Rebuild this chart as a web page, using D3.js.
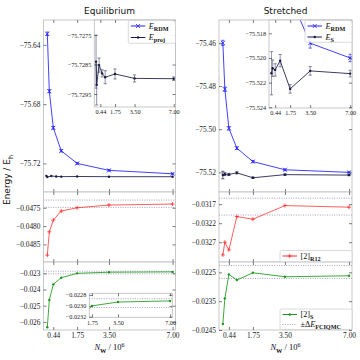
<!doctype html>
<html>
<head>
<meta charset="utf-8">
<title>Energy convergence</title>
<style>
  body { margin: 0; background: #fff; }
  svg { display: block; }
  .tk text { font-family: "Liberation Serif", "DejaVu Serif", serif; font-size: 7.4px; fill: #222; }
  .tk.small text { font-size: 6.2px; }
  .tk line { stroke: #444; stroke-width: 0.7; }
  .tk .domain { display: none; }
  .ttl { font-family: "DejaVu Sans", sans-serif; font-size: 9px; fill: #111; }
  .math { font-family: "Liberation Serif", "DejaVu Serif", serif; fill: #111; }
</style>
</head>
<body>
<script src="https://cdn.jsdelivr.net/npm/d3@7"></script>
<script>
// ---- data ----
var xTicks = [0.44, 1.75, 3.50, 7.00];
var xTicksInset = [1.75, 3.50, 7.00];

// Equilibrium
var nwEq = [0.11, 0.22, 0.44, 0.875, 1.75, 3.5, 7.0];
var eRdmEq = [-75.6325, -75.6713, -75.696, -75.7115, -75.7200, -75.7247, -75.7270];
var eRdmEqErr = [0.0012, 0.0010, 0.0009, 0.0008, 0.0006, 0.0005, 0.0004];
var nwProjEq = [0.055, 0.11, 0.33, 0.6, 0.875, 1.75, 3.5, 7.0];
var eProjEq = [-75.7284, -75.72919, -75.72852, -75.72880, -75.72893, -75.72882, -75.72897, -75.72898];
var eProjEqErr = [0.0009, 0.00068, 0.00024, 0.00012, 0.00022, 0.00017, 0.00012, 0.00006];
var r12Eq = [-0.048792, -0.048156, -0.047836, -0.04759, -0.0475, -0.047426, -0.047399];
var sEq = [-0.026333, -0.024648, -0.023679, -0.023272, -0.02300, -0.02293, -0.02291];
var r12EqRef = -0.04739, r12EqDelta = 0.0001;
var sEqRef = -0.02295, sEqDelta = 0.00008;

// Stretched
var nwSt = [0.11, 0.22, 0.44, 0.875, 1.75, 3.5, 7.0];
var eRdmSt = [-75.4600, -75.4815, -75.4996, -75.5088, -75.5150, -75.5188, -75.5200];
var eRdmStErr = [0.0012, 0.0010, 0.0008, 0.0006, 0.0005, 0.0004, 0.0003];
var eSSt = [-75.52124, -75.52083, -75.52097, -75.52022, -75.52251, -75.52105, -75.52127];
var eSStErr = [0.00175, 0.00067, 0.0005, 0.0005, 0.00034, 0.00035, 0.00027];
var r12St = [-0.033034, -0.0327, -0.032903, -0.032026, -0.032095, -0.031737, -0.031779];
var sSt = [-0.024292, -0.023401, -0.022569, -0.022767, -0.022514, -0.022653, -0.022618];
var r12StRef = -0.031764, r12StDelta = 0.000222;
var sStRef = -0.022485, sStDelta = 0.000225;

var blue = "#2020ff", navy = "#1b1b45", red = "#ff2a2a", green = "#1c9a1c", dotc = "#8a8aaa";

var svg = d3.select("body").append("svg").attr("width", 360).attr("height", 360);
var clipN = 0;

function markerPath(kind, s) {
  if (kind == "x") return "M" + (-s) + "," + (-s) + "L" + s + "," + s + "M" + (-s) + "," + s + "L" + s + "," + (-s);
  if (kind == "+") return "M" + (-s) + ",0H" + s + "M0," + (-s) + "V" + s;
  return null;
}

function panel(o) {
  var g = svg.append("g");
  var x = d3.scaleLinear().domain(o.xd).range([o.x0, o.x1]);
  var y = d3.scaleLinear().domain(o.yd).range([o.y1, o.y0]);
  g.append("rect").attr("x", o.x0).attr("y", o.y0).attr("width", o.x1 - o.x0).attr("height", o.y1 - o.y0)
    .attr("fill", "#fff");
  var id = "clip" + (clipN++);
  svg.append("clipPath").attr("id", id).append("rect")
    .attr("x", o.x0).attr("y", o.y0).attr("width", o.x1 - o.x0).attr("height", o.y1 - o.y0);
  var plot = g.append("g").attr("clip-path", "url(#" + id + ")");

  (o.bands || []).forEach(function(b) {
    [b.ref - b.d, b.ref + b.d].forEach(function(v) {
      plot.append("line").attr("x1", o.x0).attr("x2", o.x1).attr("y1", y(v)).attr("y2", y(v))
        .attr("stroke", dotc).attr("stroke-width", 0.8).attr("stroke-dasharray", "1,1.4");
    });
  });

  (o.series || []).forEach(function(s) {
    var pts = s.xs.map(function(v, i) { return [v, s.ys[i], s.err ? s.err[i] : 0]; });
    if (s.err) {
      pts.forEach(function(p) {
        var cx = x(p[0]), a = y(p[1] + p[2]), b = y(p[1] - p[2]);
        plot.append("line").attr("x1", cx).attr("x2", cx).attr("y1", a).attr("y2", b)
          .attr("stroke", s.ecol || s.color).attr("stroke-width", 0.8).attr("opacity", 0.8);
        [a, b].forEach(function(yy) {
          plot.append("line").attr("x1", cx - 1.6).attr("x2", cx + 1.6).attr("y1", yy).attr("y2", yy)
            .attr("stroke", s.ecol || s.color).attr("stroke-width", 0.7);
        });
      });
    }
    plot.append("path").datum(pts)
      .attr("d", d3.line().x(function(p) { return x(p[0]); }).y(function(p) { return y(p[1]); }))
      .attr("fill", "none").attr("stroke", s.color).attr("stroke-width", 1).attr("opacity", s.op || 0.85);
    pts.forEach(function(p) {
      if (s.marker == "o") {
        plot.append("circle").attr("cx", x(p[0])).attr("cy", y(p[1])).attr("r", 1.2).attr("fill", s.color);
      } else {
        plot.append("path").attr("transform", "translate(" + x(p[0]) + "," + y(p[1]) + ")")
          .attr("d", markerPath(s.marker, 2)).attr("stroke", s.color).attr("stroke-width", 0.8).attr("fill", "none");
      }
    });
  });

  g.append("rect").attr("x", o.x0).attr("y", o.y0).attr("width", o.x1 - o.x0).attr("height", o.y1 - o.y0)
    .attr("fill", "none").attr("stroke", "#bbb").attr("stroke-width", 0.8);

  var cls = "tk" + (o.small ? " small" : "");
  var tl = 3;
  g.append("g").attr("class", cls).attr("transform", "translate(" + o.x0 + ",0)")
    .call(d3.axisLeft(y).tickValues(o.yt).tickFormat(d3.format(o.yf)).tickSize(-tl).tickPadding(3));
  g.append("g").attr("class", cls).attr("transform", "translate(" + o.x1 + ",0)")
    .call(d3.axisRight(y).tickValues(o.yt).tickFormat("").tickSize(-tl));
  g.append("g").attr("class", cls).attr("transform", "translate(0," + o.y0 + ")")
    .call(d3.axisTop(x).tickValues(o.xt).tickFormat("").tickSize(-tl));
  g.append("g").attr("class", cls).attr("transform", "translate(0," + o.y1 + ")")
    .call(d3.axisBottom(x).tickValues(o.xt).tickFormat(o.xlab ? d3.format(".2f") : "").tickSize(-tl).tickPadding(3));
  return g;
}

// text with sub/superscripts; parts: [text, kind] kind: "" normal, "i" italic, "s" subscript bold, "u" superscript
function mathText(sel, x, y, parts, size, anchor) {
  var t = sel.append("text").attr("class", "math").attr("x", x).attr("y", y)
    .attr("font-size", size).attr("text-anchor", anchor || "start");
  var shift = 0;
  parts.forEach(function(p) {
    var sp = t.append("tspan").text(p[0]);
    var target = p[1] == "s" ? size * 0.3 : p[1] == "u" ? -size * 0.4 : 0;
    if (target != shift) { sp.attr("dy", target - shift); shift = target; }
    if (p[1] == "i") sp.attr("font-style", "italic");
    if (p[1] == "s") sp.attr("font-weight", "bold").attr("font-size", size * 0.75);
    if (p[1] == "u") sp.attr("font-size", size * 0.7);
  });
  return t;
}

function legend(x0, y0, x1, y1, items) {
  var g = svg.append("g");
  g.append("rect").attr("x", x0).attr("y", y0).attr("width", x1 - x0).attr("height", y1 - y0)
    .attr("rx", 1.5).attr("fill", "#fff").attr("fill-opacity", 0.9).attr("stroke", "#ccc").attr("stroke-width", 0.7);
  items.forEach(function(it, i) {
    var yy = it.y;
    var l = g.append("line").attr("x1", x0 + 2.5).attr("x2", x0 + 17).attr("y1", yy).attr("y2", yy)
      .attr("stroke", it.color).attr("stroke-width", it.dash ? 0.8 : 1);
    if (it.dash) l.attr("stroke-dasharray", "1,1.4");
    var mx = x0 + 9.75;
    if (it.marker == "o") g.append("circle").attr("cx", mx).attr("cy", yy).attr("r", 1.2).attr("fill", it.color);
    else if (it.marker) g.append("path").attr("transform", "translate(" + mx + "," + yy + ")")
      .attr("d", markerPath(it.marker, 2)).attr("stroke", it.color).attr("stroke-width", 0.8);
    mathText(g, x0 + 20.5, yy + 2.5, it.text, 8.2);
  });
}

var xdom = [-0.1, 7.16];
var L = { x0: 43.5, x1: 175.5 }, R = { x0: 219, x1: 352 };
var rows = { top: [20, 192], mid: [192, 262], bot: [262, 330] };

// ---- Equilibrium ----
panel({ x0: L.x0, x1: L.x1, y0: rows.top[0], y1: rows.top[1], xd: xdom, yd: [-75.7393, -75.6232],
  yt: [-75.72, -75.68, -75.64], yf: ".2f", xt: xTicks,
  series: [
    { xs: nwEq, ys: eRdmEq, err: eRdmEqErr, color: blue, marker: "x" },
    { xs: nwProjEq, ys: eProjEq, color: navy, marker: "o" }
  ] });
panel({ x0: 94.3, x1: L.x1, y0: rows.top[0], y1: 107, xd: xdom, yd: [-75.72994, -75.72699],
  yt: [-75.7295, -75.7285, -75.7275], yf: ".4f", xt: xTicks, xlab: true, small: true,
  series: [
    { xs: nwEq, ys: eRdmEq, color: blue, marker: "x" },
    { xs: nwProjEq, ys: eProjEq, err: eProjEqErr, color: navy, ecol: "#555577", marker: "o" }
  ] });
panel({ x0: L.x0, x1: L.x1, y0: rows.mid[0], y1: rows.mid[1], xd: xdom, yd: [-0.04898, -0.04707],
  yt: [-0.0485, -0.0480, -0.0475], yf: ".4f", xt: xTicks,
  bands: [{ ref: r12EqRef, d: r12EqDelta }],
  series: [{ xs: nwEq, ys: r12Eq, color: red, marker: "+", op: 0.75 }] });
panel({ x0: L.x0, x1: L.x1, y0: rows.bot[0], y1: rows.bot[1], xd: xdom, yd: [-0.0265, -0.0223],
  yt: [-0.026, -0.025, -0.024, -0.023], yf: ".3f", xt: xTicks, xlab: true,
  bands: [{ ref: sEqRef, d: sEqDelta }],
  series: [{ xs: nwEq, ys: sEq, color: green, marker: "o" }] });
panel({ x0: 89.3, x1: 172.3, y0: 293.3, y1: 317.3, xd: [1.57, 7.15], yd: [-0.02321, -0.02277],
  yt: [-0.0232, -0.0230, -0.0228], yf: ".4f", xt: xTicksInset, xlab: true, small: true,
  bands: [{ ref: sEqRef, d: sEqDelta }],
  series: [{ xs: nwEq, ys: sEq, color: green, marker: "o" }] });

// ---- Stretched ----
panel({ x0: R.x0, x1: R.x1, y0: rows.top[0], y1: rows.top[1], xd: xdom, yd: [-75.5291, -75.4494],
  yt: [-75.52, -75.50, -75.48, -75.46], yf: ".2f", xt: xTicks,
  series: [
    { xs: nwSt, ys: eRdmSt, err: eRdmStErr, color: blue, marker: "x" },
    { xs: nwSt, ys: eSSt, err: eSStErr, color: navy, marker: "o" }
  ] });
panel({ x0: 269, x1: R.x1, y0: rows.top[0], y1: 108, xd: xdom, yd: [-75.52406, -75.51692],
  yt: [-75.524, -75.522, -75.520, -75.518], yf: ".3f", xt: xTicks, xlab: true, small: true,
  series: [
    { xs: nwSt, ys: eRdmSt, err: eRdmStErr, color: blue, marker: "x" },
    { xs: nwSt, ys: eSSt, err: eSStErr, color: navy, ecol: "#555577", marker: "o" }
  ] });
panel({ x0: R.x0, x1: R.x1, y0: rows.mid[0], y1: rows.mid[1], xd: xdom, yd: [-0.03322, -0.03138],
  yt: [-0.0327, -0.0322, -0.0317], yf: ".4f", xt: xTicks,
  bands: [{ ref: r12StRef, d: r12StDelta }],
  series: [{ xs: nwSt, ys: r12St, color: red, marker: "+", op: 0.75 }] });
panel({ x0: R.x0, x1: R.x1, y0: rows.bot[0], y1: rows.bot[1], xd: xdom, yd: [-0.0245, -0.02214],
  yt: [-0.0245, -0.0235, -0.0225], yf: ".4f", xt: xTicks, xlab: true,
  bands: [{ ref: sStRef, d: sStDelta }],
  series: [{ xs: nwSt, ys: sSt, color: green, marker: "o" }] });

// ---- legends ----
legend(128.3, 20.5, 175.5, 43.3, [
  { y: 26, color: blue, marker: "x", text: [["E", "i"], ["RDM", "s"]] },
  { y: 37.5, color: navy, marker: "o", text: [["E", "i"], ["proj", "s"]] }
]);
legend(305, 20.5, 352, 42.3, [
  { y: 26, color: blue, marker: "x", text: [["E", "i"], ["RDM", "s"]] },
  { y: 37, color: navy, marker: "o", text: [["E", "i"], ["S", "s"]] }
]);
legend(280, 250.5, 352, 261.7, [
  { y: 256, color: red, marker: "+", text: [["[2]", ""], ["R12", "s"]] }
]);
legend(280, 309, 352, 329.5, [
  { y: 314.5, color: green, marker: "o", text: [["[2]", ""], ["S", "s"]] },
  { y: 324.5, color: dotc, dash: true, text: [["\u00b1\u0394", ""], ["E", "i"], ["FCIQMC", "s"]] }
]);

// ---- titles and axis labels ----
svg.append("text").attr("class", "ttl").attr("x", 109.5).attr("y", 14).attr("text-anchor", "middle").text("Equilibrium");
svg.append("text").attr("class", "ttl").attr("x", 285.5).attr("y", 14).attr("text-anchor", "middle").text("Stretched");

var yl = svg.append("text").attr("class", "ttl").attr("font-size", 8.5)
  .attr("transform", "translate(10,180) rotate(-90)").attr("text-anchor", "middle");
yl.append("tspan").text("Energy / E");
yl.append("tspan").text("h").attr("dy", 2.5).attr("font-size", 6.5);

[109.5, 285.5].forEach(function(cx) {
  mathText(svg, cx, 350, [["N", "i"], ["W", "s"], [" / 10", ""], ["6", "u"]], 8.5, "middle");
});
</script>
</body>
</html>
